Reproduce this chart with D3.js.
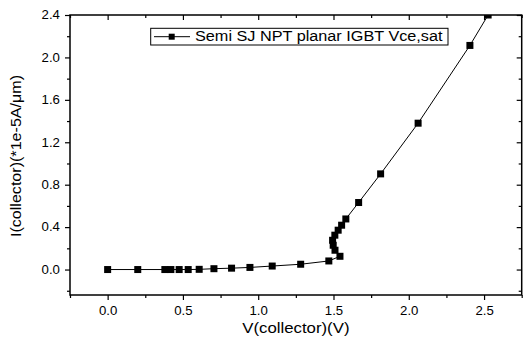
<!DOCTYPE html>
<html>
<head>
<meta charset="utf-8">
<script src="https://cdn.jsdelivr.net/npm/d3@7"></script>
<style>
  body { margin: 0; background: white; }
  text { font-family: "Liberation Sans", Arial, sans-serif; fill: black; }
</style>
</head>
<body>
<svg id="chart" width="527" height="339"></svg>
<script>
// collector voltage (V) and current (*1e-5 A/um)
var vce = [0, 0.2, 0.38, 0.42, 0.475, 0.535, 0.608, 0.706, 0.823, 0.945, 1.093,
  1.282, 1.469, 1.543, 1.51, 1.498, 1.494, 1.509, 1.531, 1.554, 1.582, 1.667,
  1.813, 2.062, 2.406, 2.527]
var ic = [0, 0, 0, 0, 0, 0, 0.002, 0.008, 0.013, 0.02, 0.033,
  0.05, 0.081, 0.125, 0.182, 0.229, 0.276, 0.324, 0.371, 0.418, 0.477, 0.632,
  0.902, 1.38, 2.113, 2.40]

var xMajor = [0, 0.5, 1.0, 1.5, 2.0, 2.5]
var xMinor = [-0.25, 0.25, 0.75, 1.25, 1.75, 2.25, 2.75]
var yMajor = [0, 0.4, 0.8, 1.2, 1.6, 2.0, 2.4]
var yMinor = [-0.2, 0.2, 0.6, 1.0, 1.4, 1.8, 2.2]

var seriesName = "Semi SJ NPT planar IGBT Vce,sat"
var xTitle = "V(collector)(V)"
var yTitle = "I(collector)(*1e-5A/\u03bcm)"

var LEFT = 70, RIGHT = 521.7, TOP = 15, BOTTOM = 295
var MARK = 7

var svg = d3.select("#chart")

var x = d3.scaleLinear().domain([-0.25, 2.75]).range([LEFT, RIGHT])
var y = d3.scaleLinear().domain([-0.24, 2.4]).range([BOTTOM, TOP])

var points = vce.map(function(v, i) { return {v: v, i: ic[i]} })

function fmt(d) { return d3.format(".1f")(d) }

function drawAxes() {
  // bottom & left: ticks outward with labels
  var bottom = svg.append("g").attr("transform", "translate(0," + BOTTOM + ")")
  bottom.call(d3.axisBottom(x).tickValues(xMajor).tickSizeInner(5).tickSizeOuter(0).tickFormat(fmt))
  bottom.append("g").call(d3.axisBottom(x).tickValues(xMinor).tickSizeInner(3).tickSizeOuter(0).tickFormat(""))

  var left = svg.append("g").attr("transform", "translate(" + LEFT + ",0)")
  left.call(d3.axisLeft(y).tickValues(yMajor).tickSizeInner(5).tickSizeOuter(0).tickFormat(fmt))
  left.append("g").call(d3.axisLeft(y).tickValues(yMinor).tickSizeInner(3).tickSizeOuter(0).tickFormat(""))

  // top & right: mirrored ticks pointing inward, no labels
  var top = svg.append("g").attr("transform", "translate(0," + TOP + ")")
  top.call(d3.axisTop(x).tickValues(xMajor).tickSizeInner(-5).tickSizeOuter(0).tickFormat(""))
  top.append("g").call(d3.axisTop(x).tickValues(xMinor).tickSizeInner(-3).tickSizeOuter(0).tickFormat(""))

  var right = svg.append("g").attr("transform", "translate(" + RIGHT + ",0)")
  right.call(d3.axisRight(y).tickValues(yMajor).tickSizeInner(-5).tickSizeOuter(0).tickFormat(""))
  right.append("g").call(d3.axisRight(y).tickValues(yMinor).tickSizeInner(-3).tickSizeOuter(0).tickFormat(""))

  svg.selectAll(".domain").remove()
  svg.selectAll(".tick line").attr("stroke", "black").attr("stroke-width", 1.2)

  bottom.selectAll(".tick text")
    .attr("y", 11.5)
    .attr("font-size", 12)
    .attr("font-family", "Liberation Sans, Arial, sans-serif")
    .attr("transform", "scale(1.1,1)")
  left.selectAll(".tick text")
    .attr("x", -9.2)
    .attr("font-size", 12)
    .attr("font-family", "Liberation Sans, Arial, sans-serif")
    .attr("transform", "scale(1.1,1)")

  svg.append("rect")
    .attr("x", LEFT).attr("y", TOP)
    .attr("width", RIGHT - LEFT).attr("height", BOTTOM - TOP)
    .attr("fill", "none")
    .attr("stroke", "black")
    .attr("stroke-width", 1.5)
}

function drawTitles() {
  svg.append("text")
    .attr("transform", "translate(" + (LEFT + RIGHT) / 2 + ",333) scale(1.2,1)")
    .attr("text-anchor", "middle")
    .attr("font-size", 14)
    .text(xTitle)

  svg.append("text")
    .attr("transform", "translate(21,156) rotate(-90) scale(1.15,1)")
    .attr("text-anchor", "middle")
    .attr("font-size", 14)
    .text(yTitle)
}

function drawSeries() {
  svg.append("clipPath").attr("id", "plotClip")
    .append("rect")
    .attr("x", LEFT).attr("y", TOP)
    .attr("width", RIGHT - LEFT).attr("height", BOTTOM - TOP)

  var g = svg.append("g").attr("clip-path", "url(#plotClip)")

  var line = d3.line()
    .x(function(d) { return x(d.v) })
    .y(function(d) { return y(d.i) })

  g.append("path")
    .datum(points)
    .attr("d", line)
    .attr("fill", "none")
    .attr("stroke", "black")
    .attr("stroke-width", 1)

  g.selectAll(".mark")
    .data(points)
  .enter().append("rect")
    .attr("class", "mark")
    .attr("x", function(d) { return x(d.v) - MARK / 2 })
    .attr("y", function(d) { return y(d.i) - MARK / 2 })
    .attr("width", MARK)
    .attr("height", MARK)
    .attr("fill", "black")
}

function drawLegend() {
  var g = svg.append("g")
  g.append("rect")
    .attr("x", 150.7).attr("y", 28.3)
    .attr("width", 297.3).attr("height", 16.7)
    .attr("fill", "white")
    .attr("stroke", "black")
    .attr("stroke-width", 1)
  g.append("line")
    .attr("x1", 154).attr("x2", 190)
    .attr("y1", 36.7).attr("y2", 36.7)
    .attr("stroke", "black")
  g.append("rect")
    .attr("x", 171.7 - 3).attr("y", 36.7 - 3)
    .attr("width", 6).attr("height", 6)
    .attr("fill", "black")
  g.append("text")
    .attr("transform", "translate(195,41.3) scale(1.16,1)")
    .attr("font-size", 14)
    .text(seriesName)
}

drawSeries()
drawAxes()
drawTitles()
drawLegend()
</script>
</body>
</html>
